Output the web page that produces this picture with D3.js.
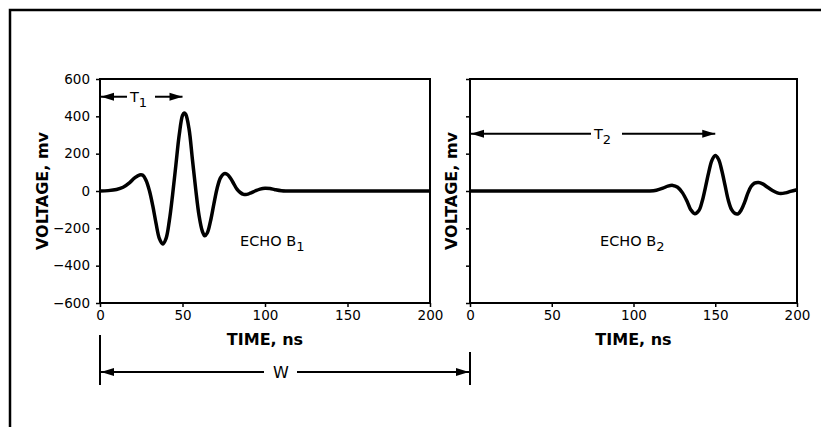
<!DOCTYPE html>
<html><head><meta charset="utf-8">
<script src="https://cdn.jsdelivr.net/npm/d3@7"></script>
<style>
html,body{margin:0;padding:0;background:#fff;}
svg{display:block;}
text{font-family:"DejaVu Sans",Verdana,sans-serif;fill:#000;}
</style></head>
<body>
<svg id="chart" width="821" height="427"></svg>
<script>
// ---- data ----
const echo1Time = [0,5,10,14,18,21,24,26,28,30,32,34,36,38,40,42,44,46,48,50,51,52,54,56,58,60,62,63.5,65,67,69,71,73,75,77,79,81,83,85,87,89,91,94,97,100,103,106,110,114,130,160,200];
const echo1Volt = [0,2,8,20,45,70,86,84,55,0,-80,-175,-255,-284,-255,-160,-20,140,300,405,418,410,330,170,10,-130,-215,-240,-225,-160,-70,15,70,92,90,70,40,10,-8,-18,-18,-12,0,10,15,13,7,1,0,0,0,0];
const echo2Time = [0,50,100,110,114,118,121,124,127,130,133,135,137.5,140,142,144,146,148,150,152,154,156,158,160,162,164,166,168,170,172,174,176.5,179,182,185,188,190,193,196,200];
const echo2Volt = [0,0,0,0,4,15,26,30,20,-10,-60,-100,-122,-105,-55,20,100,165,190,170,110,30,-50,-100,-120,-122,-100,-60,-10,25,42,46,38,20,3,-10,-14,-10,-2,7];
const timeTicks = [0,50,100,150,200];
const voltTicks = [-600,-400,-200,0,200,400,600];
const timeDomain = [0,200];
const voltDomain = [-600,600];
const echoLabels = ["1","2"];
const xTitle = "TIME, ns";
const yTitle = "VOLTAGE, mv";

// ---- layout ----
const svg = d3.select("#chart");
const plotTop = 79, plotBottom = 303;
const panels = [
  {x0:100, x1:430, t:echo1Time, v:echo1Volt, labels:true, echoX:240, titleOff:52},
  {x0:470, x1:797, t:echo2Time, v:echo2Volt, labels:false, echoX:600, titleOff:13}
];
const y = d3.scaleLinear().domain(voltDomain).range([plotBottom, plotTop]);

// outer frame
svg.append("path").attr("d","M10,440 L10,10 L830,10")
  .attr("fill","none").attr("stroke","#000").attr("stroke-width",2.5);

function arrowHead(g, x, yy, dir){
  const L = 13, H = 4;
  g.append("path")
    .attr("d", `M${x},${yy} L${x+dir*L},${yy-H} L${x+dir*L},${yy+H} Z`)
    .attr("fill","#000");
}

panels.forEach((p,i)=>{
  const x = d3.scaleLinear().domain(timeDomain).range([p.x0, p.x1]);
  p.x = x;
  const g = svg.append("g");
  const ya = d3.axisLeft(y).tickValues(voltTicks).tickSize(4).tickPadding(6)
    .tickFormat(p.labels ? d3.format("") : "");
  const yg = g.append("g").attr("transform",`translate(${p.x0},0)`).call(ya);
  const xa = d3.axisBottom(x).tickValues(timeTicks).tickSize(4).tickPadding(3).tickFormat(d3.format(""));
  const xg = g.append("g").attr("transform",`translate(0,${plotBottom})`).call(xa);
  [yg,xg].forEach(a=>{
    a.select(".domain").remove();
    a.selectAll("line").attr("stroke","#000").attr("stroke-width",1.5);
    a.selectAll("text").attr("font-size",13.5).attr("font-family","DejaVu Sans").attr("fill","#000");
  });
  g.append("rect").attr("x",p.x0).attr("y",plotTop).attr("width",p.x1-p.x0).attr("height",plotBottom-plotTop)
    .attr("fill","none").attr("stroke","#000").attr("stroke-width",2);
  const line = d3.line().x((d,j)=>x(p.t[j])).y((d,j)=>y(p.v[j])).curve(d3.curveCatmullRom.alpha(0.5));
  g.append("path").datum(p.t).attr("d",line)
    .attr("fill","none").attr("stroke","#000").attr("stroke-width",3.5).attr("stroke-linejoin","round");
  g.append("text").attr("transform",`translate(${p.x0-p.titleOff},${(plotTop+plotBottom)/2}) rotate(-90)`)
    .attr("text-anchor","middle").attr("font-weight","bold").attr("font-size",16).text(yTitle);
  g.append("text").attr("x",(p.x0+p.x1)/2).attr("y",345)
    .attr("text-anchor","middle").attr("font-weight","bold").attr("font-size",16).text(xTitle);
  const et = g.append("text").attr("x",p.echoX).attr("y",246).attr("font-size",14.5);
  et.append("tspan").text("ECHO B");
  et.append("tspan").attr("dy",5).attr("font-size",13).text(echoLabels[i]);
});

// T1 arrow (0 -> 50 ns, left panel)
(function(){
  const x = panels[0].x, yy = y(505), g = svg.append("g");
  const xa = x(0), xb = x(50);
  g.append("line").attr("x1",xa).attr("x2",127).attr("y1",yy).attr("y2",yy).attr("stroke","#000").attr("stroke-width",2);
  g.append("line").attr("x1",155).attr("x2",xb).attr("y1",yy).attr("y2",yy).attr("stroke","#000").attr("stroke-width",2);
  arrowHead(g, xa+1, yy, 1); arrowHead(g, xb, yy, -1);
  const t = g.append("text").attr("x",130).attr("y",yy+5).attr("font-size",14.5);
  t.append("tspan").text("T");
  t.append("tspan").attr("dy",5).attr("font-size",13).text("1");
})();

// T2 arrow (0 -> 150 ns, right panel)
(function(){
  const x = panels[1].x, yy = y(307), g = svg.append("g");
  const xa = x(0), xb = x(150);
  g.append("line").attr("x1",xa).attr("x2",591).attr("y1",yy).attr("y2",yy).attr("stroke","#000").attr("stroke-width",2);
  g.append("line").attr("x1",622).attr("x2",xb).attr("y1",yy).attr("y2",yy).attr("stroke","#000").attr("stroke-width",2);
  arrowHead(g, xa+1, yy, 1); arrowHead(g, xb, yy, -1);
  const t = g.append("text").attr("x",594).attr("y",yy+5).attr("font-size",14.5);
  t.append("tspan").text("T");
  t.append("tspan").attr("dy",5).attr("font-size",13).text("2");
})();

// W arrow (left x=0 to right x=0)
(function(){
  const g = svg.append("g"), yy = 372;
  const xa = panels[0].x(0), xb = panels[1].x(0);
  g.append("line").attr("x1",xa).attr("x2",xa).attr("y1",335).attr("y2",385).attr("stroke","#000").attr("stroke-width",2);
  g.append("line").attr("x1",xb).attr("x2",xb).attr("y1",352).attr("y2",385).attr("stroke","#000").attr("stroke-width",2);
  g.append("line").attr("x1",xa).attr("x2",264).attr("y1",yy).attr("y2",yy).attr("stroke","#000").attr("stroke-width",2);
  g.append("line").attr("x1",297).attr("x2",xb).attr("y1",yy).attr("y2",yy).attr("stroke","#000").attr("stroke-width",2);
  arrowHead(g, xa+1, yy, 1); arrowHead(g, xb-1, yy, -1);
  g.append("text").attr("x",281).attr("y",yy+6).attr("text-anchor","middle").attr("font-size",16).text("W");
})();
</script>
</body></html>
